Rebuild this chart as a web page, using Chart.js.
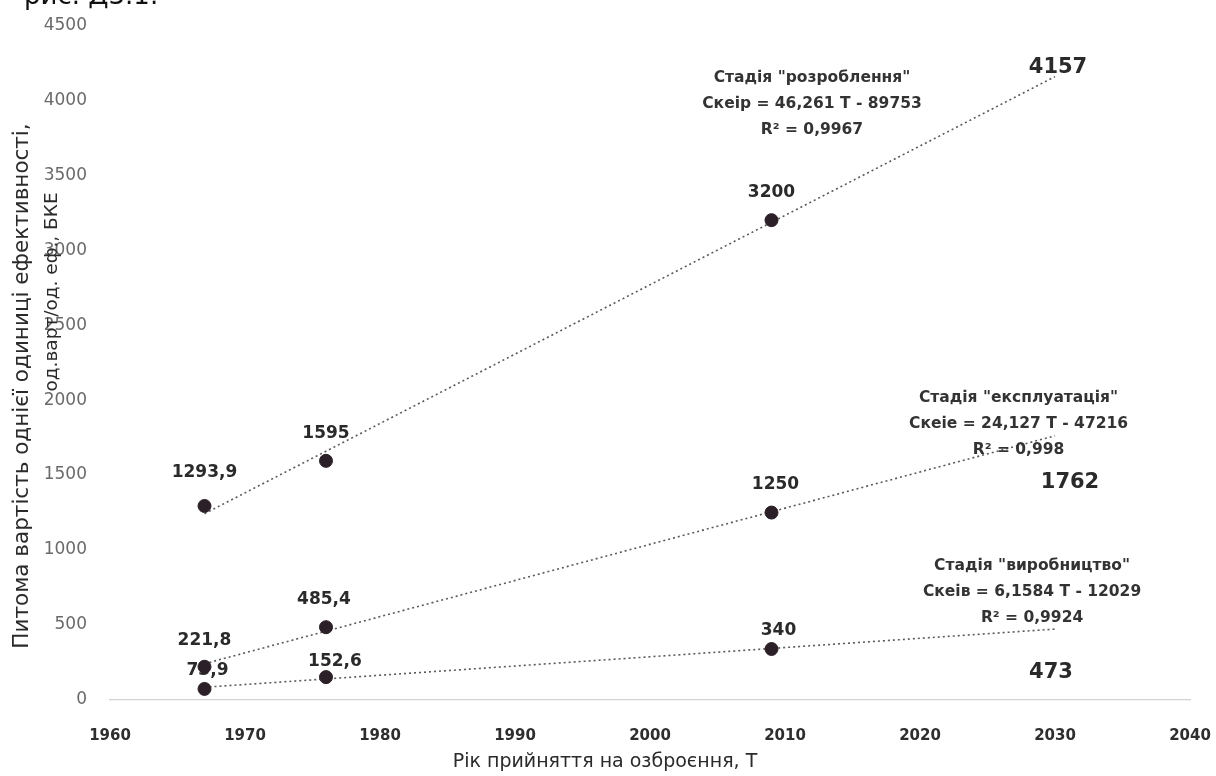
<!DOCTYPE html>
<html>
<head>
<meta charset="utf-8">
<script src="https://cdn.jsdelivr.net/npm/chart.js@4.4.1/dist/chart.umd.min.js"></script>
<style>
  html, body { margin: 0; padding: 0; background: #ffffff; }
  #wrap { width: 1216px; height: 776px; position: relative; }
</style>
</head>
<body>
<div id="wrap"><canvas id="chart" width="1216" height="776"></canvas></div>
<script>
// Years of adoption and unit cost of one efficiency unit per life-cycle stage
const years = [1967, 1976, 2009];
const developmentCost = [1293.9, 1595, 3200];
const operationCost = [221.8, 485.4, 1250];
const productionCost = [73.9, 152.6, 340];

// Linear trends, extended to the forecast year
const trendStartYear = 1967;
const forecastYear = 2030;
const trendSlopes = [46.261, 24.127, 6.1584];
const forecastValues = [4157, 1762, 473];

const stageNames = ['Стадія "розроблення"', 'Стадія "експлуатація"', 'Стадія "виробництво"'];
const equationTexts = ['Скеір = 46,261 Т - 89753', 'Скеіе = 24,127 Т - 47216', 'Скеів = 6,1584 Т - 12029'];
const rSquaredTexts = ['R² = 0,9967', 'R² = 0,998', 'R² = 0,9924'];

const yearTicks = [1960, 1970, 1980, 1990, 2000, 2010, 2020, 2030, 2040];
const costTicks = [0, 500, 1000, 1500, 2000, 2500, 3000, 3500, 4000, 4500];

const FONT = '"DejaVu Sans", "Liberation Sans", sans-serif';
const INK = '#2a2a2a';
const MARKER = '#2b2027';

const seriesValues = [developmentCost, operationCost, productionCost];

function fmt(v) { return String(v).replace('.', ','); }

function pointsOf(values) {
  return years.map((yr, i) => ({ x: yr, y: values[i] }));
}

function trendOf(k) {
  const end = forecastValues[k];
  const start = end - trendSlopes[k] * (forecastYear - trendStartYear);
  return [{ x: trendStartYear, y: start }, { x: forecastYear, y: end }];
}

const trendStyle = {
  showLine: true, borderColor: '#5a5a5a', borderWidth: 1.6, borderDash: [2, 3],
  pointRadius: 0, pointHoverRadius: 0, fill: false, order: 2
};
const markerStyle = {
  showLine: false, pointRadius: 6.5, pointHoverRadius: 6.5,
  pointBackgroundColor: MARKER, pointBorderColor: MARKER, pointBorderWidth: 1, order: 1
};

// Label placement around the markers (pixels) for each series
const labelShift = [
  [{ dx: 0, dy: -33 }, { dx: 0, dy: -27 }, { dx: 0, dy: -28 }],
  [{ dx: 0, dy: -26 }, { dx: -2, dy: -28 }, { dx: 4, dy: -28 }],
  [{ dx: 3, dy: -18 }, { dx: 9, dy: -16 }, { dx: 7, dy: -18 }]
];
const forecastShift = [{ dx: 3, dy: -9 }, { dx: 15, dy: 47 }, { dx: -4, dy: 43 }];

// Equation blocks anchored in axis units (year, cost), first line centre
const equationAnchors = [
  { x: 2012.0, y: 4150 },
  { x: 2027.3, y: 2013 },
  { x: 2028.3, y: 893 }
];

const textPlugin = {
  id: 'chartTexts',
  beforeDatasetsDraw(chart) {
    const ctx = chart.ctx;
    ctx.save();
    ctx.fillStyle = INK;
    ctx.textAlign = 'center';
    ctx.textBaseline = 'middle';
    ctx.font = 'bold 17px ' + FONT;
    // value labels next to the observed points (index 3..5 hold the markers)
    for (let k = 0; k < 3; k++) {
      const meta = chart.getDatasetMeta(3 + k);
      meta.data.forEach((pt, i) => {
        const s = labelShift[k][i];
        ctx.fillText(fmt(seriesValues[k][i]), pt.x + s.dx, pt.y + s.dy);
      });
    }
    ctx.restore();
  },
  afterDatasetsDraw(chart) {
    const ctx = chart.ctx;
    const xs = chart.scales.x, ys = chart.scales.y;
    ctx.save();
    ctx.fillStyle = INK;
    ctx.textAlign = 'center';
    ctx.textBaseline = 'middle';

    // forecast values at the end of each trend line
    ctx.font = 'bold 21px ' + FONT;
    for (let k = 0; k < 3; k++) {
      const meta = chart.getDatasetMeta(k);
      const end = meta.data[1];
      const s = forecastShift[k];
      ctx.fillText(String(forecastValues[k]), end.x + s.dx, end.y + s.dy);
    }

    // trend equations
    ctx.fillStyle = '#333';
    ctx.font = 'bold 15.5px ' + FONT;
    for (let k = 0; k < 3; k++) {
      const a = equationAnchors[k];
      const px = xs.getPixelForValue(a.x);
      const py = ys.getPixelForValue(a.y);
      ctx.fillText(stageNames[k], px, py);
      ctx.fillText(equationTexts[k], px, py + 26);
      ctx.fillText(rSquaredTexts[k], px, py + 52);
    }

    // axis titles
    ctx.fillStyle = INK;
    ctx.font = '19px ' + FONT;
    ctx.fillText('Рік прийняття на озброєння, Т', 605, 762);

    ctx.save();
    ctx.translate(22, 386);
    ctx.rotate(-Math.PI / 2);
    ctx.font = '21.5px ' + FONT;
    ctx.fillText('Питома вартість однієї одиниці ефективності,', 0, 0);
    ctx.restore();

    ctx.save();
    ctx.translate(52, 292);
    ctx.rotate(-Math.PI / 2);
    ctx.font = '18.5px ' + FONT;
    ctx.fillText('од.варт/од. еф., БКЕ', 0, 0);
    ctx.restore();

    // figure caption at the top edge
    ctx.textAlign = 'left';
    ctx.textBaseline = 'alphabetic';
    ctx.font = '26px ' + FONT;
    ctx.fillStyle = '#111';
    ctx.fillText('рис. Д3.1.', 24, 4);
    ctx.restore();
  }
};

new Chart(document.getElementById('chart'), {
  type: 'scatter',
  data: {
    datasets: [
      Object.assign({ label: 'trend-dev', data: trendOf(0) }, trendStyle),
      Object.assign({ label: 'trend-op', data: trendOf(1) }, trendStyle),
      Object.assign({ label: 'trend-prod', data: trendOf(2) }, trendStyle),
      Object.assign({ label: stageNames[0], data: pointsOf(developmentCost) }, markerStyle),
      Object.assign({ label: stageNames[1], data: pointsOf(operationCost) }, markerStyle),
      Object.assign({ label: stageNames[2], data: pointsOf(productionCost) }, markerStyle)
    ]
  },
  options: {
    responsive: false,
    animation: false,
    devicePixelRatio: 1,
    layout: { padding: { top: 25, right: 26, left: 0, bottom: 0 } },
    plugins: { legend: { display: false }, tooltip: { enabled: false } },
    scales: {
      x: {
        type: 'linear',
        min: yearTicks[0],
        max: yearTicks[yearTicks.length - 1],
        afterBuildTicks: (scale) => { scale.ticks = yearTicks.map(v => ({ value: v })); },
        afterFit: (scale) => {
          scale.height = 76;
          scale.paddingLeft = 0;
          scale.paddingRight = 0;
        },
        grid: { display: false },
        border: { display: true, color: '#d2d2d2', width: 1.2, dash: [7, 5] },
        ticks: {
          padding: 19,
          color: '#2e2e2e',
          font: { family: FONT, size: 15, weight: 'bold' },
          callback: (v) => String(v)
        }
      },
      y: {
        min: costTicks[0],
        max: costTicks[costTicks.length - 1],
        afterBuildTicks: (scale) => { scale.ticks = costTicks.map(v => ({ value: v })); },
        afterFit: (scale) => { scale.width = 110; },
        grid: { display: false },
        border: { display: false },
        ticks: {
          padding: 15,
          color: '#6a6a6a',
          font: { family: FONT, size: 17 },
          callback: (v) => String(v)
        }
      }
    }
  },
  plugins: [textPlugin]
});
</script>
</body>
</html>
